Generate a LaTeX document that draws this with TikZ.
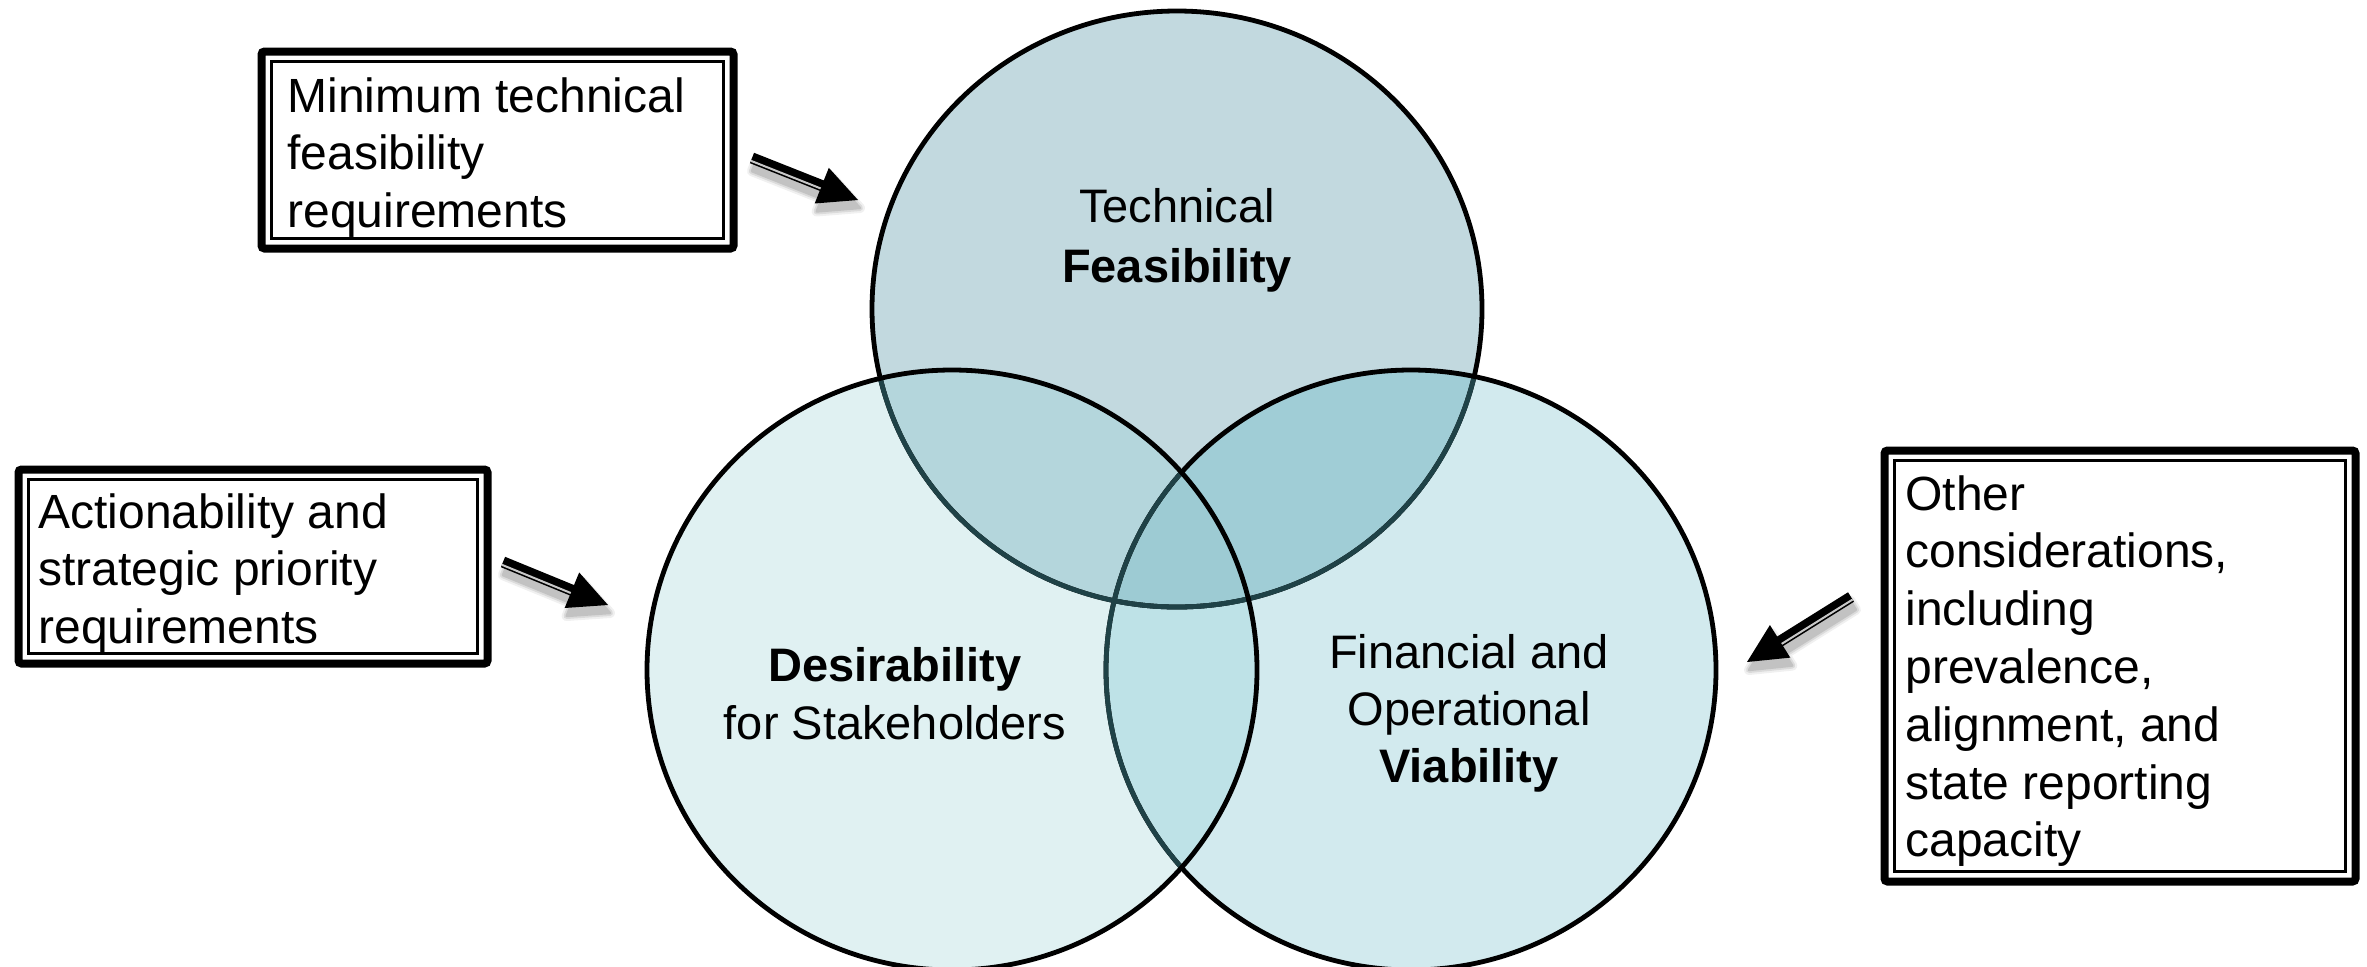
\documentclass[tikz,border=0pt]{standalone}
\usepackage{fontspec}
\setmainfont{Liberation Sans}
\usetikzlibrary{calc}
\definecolor{cT}{HTML}{C2D9DF}
\definecolor{cL}{HTML}{E0F1F2}
\definecolor{cR}{HTML}{D2EAEE}
\definecolor{cTL}{HTML}{B4D6DC}
\definecolor{cTR}{HTML}{A0CDD6}
\definecolor{cLR}{HTML}{BEE2E7}
\definecolor{cTLR}{HTML}{9DCBD3}
\definecolor{edgeteal}{HTML}{1F4247}
\definecolor{stripegray}{HTML}{C8C8C8}
\newcommand\VennT{(1177,309) ellipse [x radius=305, y radius=298]}
\newcommand\VennL{(952,670) ellipse [x radius=305, y radius=300]}
\newcommand\VennR{(1411,670) ellipse [x radius=305, y radius=300]}
\newcommand\arrowpoly{(sA) -- (mA) -- (hA) -- (tp) -- (hB) -- (mB) -- (sB) -- cycle}
\newcommand\fatarrow[3]{%
  \coordinate (tp) at (#2);
  \coordinate (sA) at ($(#1)!2.8pt!90:(#2)$);
  \coordinate (sB) at ($(#1)!2.8pt!-90:(#2)$);
  \coordinate (hb) at ($(#2)!19.5pt!(#1)$);
  \coordinate (mA) at ($(hb)!2.8pt!90:(#2)$);
  \coordinate (mB) at ($(hb)!2.8pt!-90:(#2)$);
  \coordinate (hA) at ($(hb)!9.6pt!90:(#2)$);
  \coordinate (hB) at ($(hb)!9.6pt!-90:(#2)$);
  \begin{scope}[transform canvas={shift={(1pt,-4pt)}}, line join=round]
    \filldraw[draw=black!6, fill=black!6, line width=5pt] \arrowpoly;
    \filldraw[draw=black!14, fill=black!14, line width=3pt] \arrowpoly;
    \filldraw[draw=black!24, fill=black!24, line width=1.2pt] \arrowpoly;
  \end{scope}
  \fill[black] \arrowpoly;
  \draw[stripegray, line width=1pt] ($(#1)!1.5pt!#3:(#2)$) -- ($(hb)!1.5pt!#3:(#2)$);
}
\begin{document}
\begin{tikzpicture}[x=0.5pt, y=-0.5pt,
  boxframe/.style={draw=black, line width=4pt, rounded corners=1.5pt, inner sep=0pt, outer sep=0pt, fill=white},
  boxinner/.style={draw=black, line width=1.1pt},
  boxtext/.style={inner sep=0pt, anchor=north west, align=left, font=\fontsize{24}{28.9}\selectfont},
  circtext/.style={inner sep=0pt, anchor=north, align=center},
  edgeblack/.style={draw=black, line width=2.4pt},
  edgeinner/.style={draw=edgeteal, line width=2.4pt},
]
\useasboundingbox (0,0) rectangle (2367,966);
% --- fills
\fill[cL] \VennL;
\fill[cR] \VennR;
\fill[cT] \VennT;
\begin{scope}
  \clip \VennT;
  \fill[cTL] \VennL;
  \fill[cTR] \VennR;
\end{scope}
\begin{scope}
  \clip \VennL;
  \fill[cLR] \VennR;
\end{scope}
\begin{scope}
  \clip \VennT;
  \clip \VennL;
  \fill[cTLR] \VennR;
\end{scope}
% --- outlines
\draw[edgeblack] \VennT;
\begin{scope}
  \clip \VennR;
  \draw[edgeinner] \VennT;
\end{scope}
\draw[edgeblack] \VennR;
\begin{scope}
  \clip \VennL;
  \draw[edgeinner] \VennT;
  \draw[edgeinner] \VennR;
\end{scope}
\draw[edgeblack] \VennL;
% --- circle labels
\node[circtext, font=\fontsize{23.5}{30}\selectfont] (tech) at (1177,188) {Technical\\\textbf{Feasibility}};
\node[circtext, font=\fontsize{23.5}{29}\selectfont] (desir) at (895,647) {\textbf{Desirability}\\for Stakeholders};
\node[circtext, font=\fontsize{23.5}{28.5}\selectfont] (viab) at (1469,634) {Financial and\\Operational\\\textbf{Viability}};
% --- boxes
\node[boxframe, minimum width=236pt, minimum height=98.5pt] (b1) at (497.5,150) {};
\draw[boxinner] ($(b1.north west)+(10,10)$) rectangle ($(b1.south east)+(-10,-10)$);
\node[boxframe, minimum width=234.5pt, minimum height=97pt] (b2) at (253,566.5) {};
\draw[boxinner] ($(b2.north west)+(10,10)$) rectangle ($(b2.south east)+(-10,-10)$);
\node[boxframe, minimum width=235.5pt, minimum height=215.5pt] (b3) at (2120,666) {};
\draw[boxinner] ($(b3.north west)+(10,10)$) rectangle ($(b3.south east)+(-10,-10)$);
\node[boxtext] (t1) at (287,77) {Minimum technical\\feasibility\\requirements};
\node[boxtext] (t2) at (38,493) {Actionability and\\strategic priority\\requirements};
\node[boxtext] (t3) at (1905,475) {Other\\considerations,\\including\\prevalence,\\alignment, and\\state reporting\\capacity};
% --- arrows
\coordinate (a1s) at (752,158);
\coordinate (a1e) at (858,200);
\coordinate (a2s) at (503,562);
\coordinate (a2e) at (608,605);
\coordinate (a3s) at (1851,597);
\coordinate (a3e) at (1747,662);
\fatarrow{a1s}{a1e}{-90}
\fatarrow{a2s}{a2e}{-90}
\fatarrow{a3s}{a3e}{90}
\end{tikzpicture}
\end{document}
